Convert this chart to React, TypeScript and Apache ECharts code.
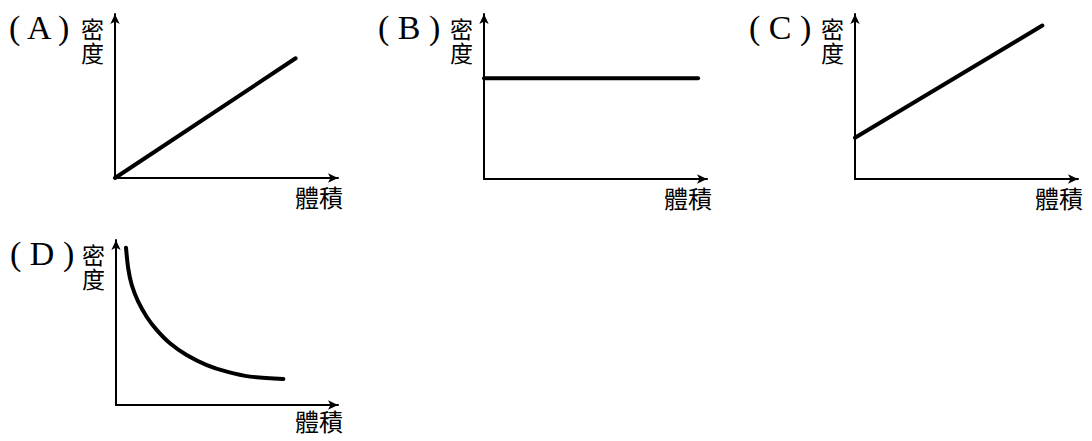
import React, { useEffect, useRef } from "react";
import * as echarts from "echarts";

const panelLabels = ["( A )", "( B )", "( C )", "( D )"];
const yAxisChars = ["密", "度"];
const xAxisName = "體積";

// values (axis range 0..10 on both axes)
const lineA: [number, number][] = [[0, 0], [8.1, 7.3]];
const lineB: [number, number][] = [[0, 6.1], [9.6, 6.1]];
const lineC: [number, number][] = [[0, 2.5], [8.4, 9.3]];
const curveD: [number, number][] = [
  [0.45, 9.53], [0.55, 8.28], [0.71, 7.27], [1.0, 6.26], [1.38, 5.35],
  [1.83, 4.55], [2.43, 3.74], [3.18, 3.03], [4.09, 2.42], [4.99, 2.02],
  [6.04, 1.72], [7.54, 1.58],
];

const grids = [
  { left: 115, top: 14, width: 223, height: 164 },
  { left: 484, top: 14, width: 223, height: 165 },
  { left: 855, top: 14, width: 223, height: 165 },
  { left: 116, top: 240, width: 222, height: 165 },
];

export default function App() {
  const ref = useRef<HTMLDivElement>(null);
  useEffect(() => {
    document.body.style.margin = "0";
    const chart = echarts.init(ref.current!, null, { renderer: "svg" });
    const datas = [lineA, lineB, lineC, curveD];
    const axisCommon = {
      type: "value" as const,
      min: 0,
      max: 10,
      splitLine: { show: false },
      axisTick: { show: false },
      axisLabel: { show: false },
      axisLine: {
        show: true,
        onZero: false,
        symbol: ["none", "arrow"],
        symbolSize: [7, 10],
        lineStyle: { color: "#000", width: 2 },
      },
    };
    const texts: any[] = [];
    grids.forEach((g, i) => {
      texts.push({
        type: "text",
        left: g.left - 106,
        top: g.top - 4,
        style: { text: panelLabels[i], font: "34px 'Liberation Serif', serif", fill: "#000" },
      });
      yAxisChars.forEach((ch, k) => {
        texts.push({
          type: "text",
          left: g.left - 34,
          top: g.top + 2 + k * 24,
          style: { text: ch, font: "23px 'Noto Sans CJK TC', sans-serif", fill: "#000" },
        });
      });
      texts.push({
        type: "text",
        left: g.left + g.width - 43,
        top: g.top + g.height + (i === 3 ? 3 : 6),
        style: { text: xAxisName, font: "24px 'Noto Sans CJK TC', sans-serif", fill: "#000" },
      });
    });
    chart.setOption({
      animation: false,
      grid: grids.map((g) => ({ ...g, containLabel: false })),
      xAxis: grids.map((_, i) => ({ ...axisCommon, gridIndex: i })),
      yAxis: grids.map((_, i) => ({ ...axisCommon, gridIndex: i })),
      series: datas.map((d, i) => ({
        type: "line",
        xAxisIndex: i,
        yAxisIndex: i,
        data: d,
        smooth: i === 3 ? 0.25 : false,
        showSymbol: false,
        symbol: "none",
        clip: false,
        lineStyle: { color: "#000", width: 4, cap: "round", join: "round" },
      })),
      graphic: texts,
    });
    return () => chart.dispose();
  }, []);
  return <div ref={ref} style={{ width: 1092, height: 441 }} />;
}
